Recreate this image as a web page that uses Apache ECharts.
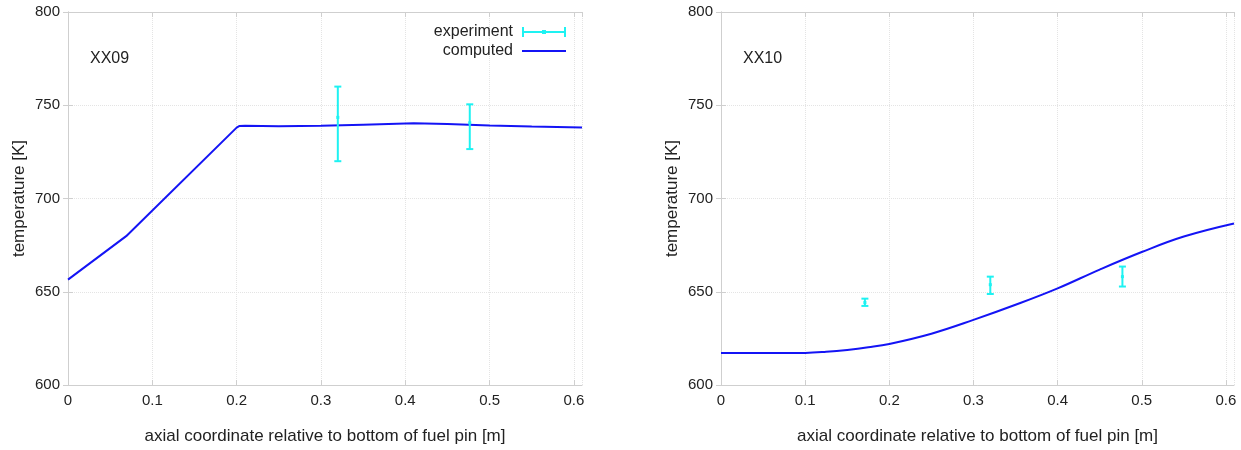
<!DOCTYPE html>
<html>
<head>
<meta charset="utf-8">
<script src="https://cdn.jsdelivr.net/npm/echarts@6/dist/echarts.min.js"></script>
<style>
  html, body { margin: 0; padding: 0; background: #ffffff; }
  #chart { width: 1241px; height: 450px; }
</style>
</head>
<body>
<div id="chart"></div>
<script>
// Axial position [m] and temperature [K] for fuel pins XX09 and XX10
const xx09ComputedX = [0, 0.069, 0.2, 0.2035, 0.21, 0.25, 0.30, 0.35, 0.41, 0.45, 0.50, 0.55, 0.6096];
const xx09ComputedT = [656.5, 679.8, 738.0, 738.9, 739.0, 738.8, 739.0, 739.6, 740.3, 740.0, 739.2, 738.6, 738.1];
const xx09ExpX  = [0.320, 0.4765];
const xx09ExpT  = [743.5, 740.6];
const xx09ExpLo = [720.0, 726.5];
const xx09ExpHi = [760.0, 750.5];

const xx10ComputedX = [0, 0.05, 0.1, 0.125, 0.15, 0.175, 0.2, 0.25, 0.3, 0.35, 0.4, 0.45, 0.5, 0.55, 0.6096];
const xx10ComputedT = [617.1, 617.1, 617.2, 617.8, 618.8, 620.2, 622.0, 627.5, 634.9, 643.0, 651.8, 661.9, 671.3, 679.6, 686.6];
const xx10ExpX  = [0.171, 0.320, 0.477];
const xx10ExpT  = [644.2, 653.8, 658.1];
const xx10ExpLo = [642.4, 648.8, 652.8];
const xx10ExpHi = [646.3, 658.1, 663.5];

const panelLabels = ['XX09', 'XX10'];
const xAxisName = 'axial coordinate relative to bottom of fuel pin [m]';
const yAxisName = 'temperature [K]';
const xMin = 0, xMax = 0.6096, xStep = 0.1;
const yMin = 600, yMax = 800, yStep = 50;

const FONT = '"Liberation Sans", "DejaVu Sans", sans-serif';
const TEXT = '#222222';
const FRAME = '#cfcfcf';
const GRIDLINE = '#e4e4e4';
const EXP_COLOR = '#1ef2f2';
const LINE_COLOR = '#1414f5';

function zip(xs, ys) { return xs.map((x, i) => [x, ys[i]]); }
function bars(xs, ts, lo, hi) { return xs.map((x, i) => [x, ts[i], lo[i], hi[i]]); }

// vertical error bar with end caps and a small centre marker
function errorBarItem(params, api) {
  const x = api.value(0);
  const c = api.coord([x, api.value(1)]);
  const lo = api.coord([x, api.value(2)]);
  const hi = api.coord([x, api.value(3)]);
  const cap = 3.5;
  const st = { stroke: EXP_COLOR, lineWidth: 2, fill: null };
  return {
    type: 'group',
    children: [
      { type: 'line', shape: { x1: lo[0], y1: lo[1], x2: hi[0], y2: hi[1] }, style: st },
      { type: 'line', shape: { x1: lo[0] - cap, y1: lo[1], x2: lo[0] + cap, y2: lo[1] }, style: st },
      { type: 'line', shape: { x1: hi[0] - cap, y1: hi[1], x2: hi[0] + cap, y2: hi[1] }, style: st },
      { type: 'rect', shape: { x: c[0] - 1.5, y: c[1] - 1.5, width: 3, height: 3 }, style: { fill: EXP_COLOR } }
    ]
  };
}

const grids = [
  { left: 68, top: 12, width: 514, height: 374 },
  { left: 721, top: 12, width: 513, height: 374 }
];

const xAxes = [];
const yAxes = [];
grids.forEach((g, gi) => {
  const baseX = {
    type: 'value', gridIndex: gi, min: xMin, max: xMax, interval: xStep,
    axisLine: { show: true, lineStyle: { color: FRAME, width: 1 } },
    axisTick: { show: true, inside: true, length: 5, lineStyle: { color: FRAME } }
  };
  xAxes.push(Object.assign({}, baseX, {
    position: 'bottom',
    name: xAxisName, nameLocation: 'middle', nameGap: 43,
    nameTextStyle: { color: TEXT, fontSize: 17, fontFamily: FONT },
    axisLabel: { color: TEXT, fontSize: 15, fontFamily: FONT, margin: 8, showMaxLabel: false,
      formatter: v => (Math.round(v * 10) / 10).toString() },
    splitLine: { show: true, lineStyle: { color: GRIDLINE, type: 'dotted', width: 1 } }
  }));
  xAxes.push(Object.assign({}, baseX, {
    position: 'top', axisLabel: { show: false }, splitLine: { show: false }
  }));
  const baseY = {
    type: 'value', gridIndex: gi, min: yMin, max: yMax, interval: yStep,
    axisLine: { show: true, lineStyle: { color: FRAME, width: 1 } },
    axisTick: { show: true, inside: true, length: 5, lineStyle: { color: FRAME } }
  };
  yAxes.push(Object.assign({}, baseY, {
    position: 'left',
    name: yAxisName, nameLocation: 'middle', nameGap: 40,
    nameTextStyle: { color: TEXT, fontSize: 17, fontFamily: FONT },
    axisLabel: { color: TEXT, fontSize: 15, fontFamily: FONT, margin: 8 },
    splitLine: { show: true, lineStyle: { color: GRIDLINE, type: 'dotted', width: 1 } }
  }));
  yAxes.push(Object.assign({}, baseY, {
    position: 'right', axisLabel: { show: false }, splitLine: { show: false }
  }));
});

const lineSeries = (data, gi, smooth) => ({
  name: 'computed', type: 'line', xAxisIndex: gi * 2, yAxisIndex: gi * 2,
  data: data, symbol: 'none', smooth: smooth,
  lineStyle: { color: LINE_COLOR, width: 2 }, itemStyle: { color: LINE_COLOR },
  z: 3
});
const expSeries = (data, gi) => ({
  name: 'experiment', type: 'custom', xAxisIndex: gi * 2, yAxisIndex: gi * 2,
  data: data, renderItem: errorBarItem, encode: { x: 0, y: 1 },
  itemStyle: { color: EXP_COLOR }, z: 4
});

const option = {
  backgroundColor: '#ffffff',
  animation: false,
  grid: grids,
  xAxis: xAxes,
  yAxis: yAxes,
  title: panelLabels.map((t, i) => ({
    text: t, left: grids[i].left + 22, top: 51, padding: 0,
    textStyle: { color: TEXT, fontSize: 16, fontWeight: 'normal', fontFamily: FONT }
  })),
  legend: {
    orient: 'vertical', align: 'right', right: 675, top: 24, padding: 0,
    itemWidth: 44, itemHeight: 10, itemGap: 3,
    textStyle: { color: TEXT, fontSize: 16, fontFamily: FONT, padding: [0, 4, 0, 0] },
    data: [
      { name: 'experiment', icon: 'path://M0,4H44V6H0Z M0,0H2V10H0Z M42,0H44V10H42Z M20,3H24V7H20Z',
        itemStyle: { color: EXP_COLOR } },
      { name: 'computed', icon: 'path://M0,4H44V6H0Z', itemStyle: { color: LINE_COLOR } }
    ]
  },
  series: [
    expSeries(bars(xx09ExpX, xx09ExpT, xx09ExpLo, xx09ExpHi), 0),
    lineSeries(zip(xx09ComputedX, xx09ComputedT), 0, false),
    expSeries(bars(xx10ExpX, xx10ExpT, xx10ExpLo, xx10ExpHi), 1),
    lineSeries(zip(xx10ComputedX, xx10ComputedT), 1, 0.4)
  ]
};

const chart = echarts.init(document.getElementById('chart'), null, { renderer: 'canvas' });
chart.setOption(option);
</script>
</body>
</html>
